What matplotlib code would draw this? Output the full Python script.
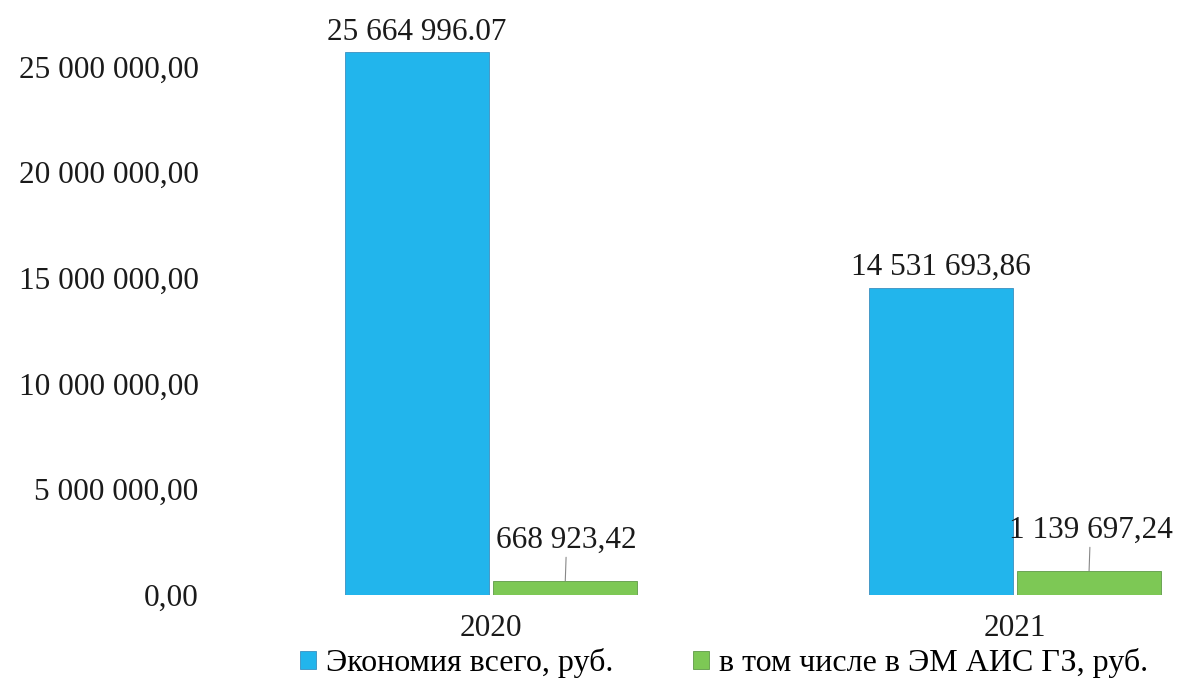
import matplotlib
matplotlib.use("Agg")
import matplotlib.pyplot as plt
from matplotlib.ticker import FuncFormatter
import numpy as np

plt.rcParams["font.family"] = ["Liberation Serif", "DejaVu Serif"]

years = ["2020", "2021"]
total_savings = [25664996.07, 14531693.86]
ais_savings = [668923.42, 1139697.24]
total_labels = ["25 664 996.07", "14 531 693,86"]
ais_labels = ["668 923,42", "1 139 697,24"]
series_names = ["Экономия всего, руб.", "в том числе в ЭМ АИС ГЗ, руб."]
y_ticks = [0, 5e6, 10e6, 15e6, 20e6, 25e6]

BLUE = "#22B5EC"
GREEN = "#7DC855"
TEXT = "#1a1a1a"


def rub_fmt(v, _pos):
    s = f"{v:,.2f}"
    return s.replace(",", " ").replace(".", ",")


fig = plt.figure(figsize=(11.83, 6.83), dpi=100)
ax = fig.add_axes([0.203, 0.1288, 0.797, 0.836])

x = np.arange(len(years))
w = 0.275
off = 0.1417
b1 = ax.bar(x - off, total_savings, w, color=BLUE, edgecolor="#3a8fc0",
            linewidth=0.6, label=series_names[0])
b2 = ax.bar(x + off, ais_savings, w, color=GREEN, edgecolor="#5f9a48",
            linewidth=0.6, label=series_names[1])

for rect, lab in zip(b1, total_labels):
    ax.annotate(lab, (rect.get_x() + rect.get_width() / 2, rect.get_height()),
                xytext=(0, 4), textcoords="offset points", ha="center",
                va="bottom", fontsize=22.5, color=TEXT)

for rect, lab in zip(b2, ais_labels):
    cx = rect.get_x() + rect.get_width() / 2
    ax.annotate(lab, (cx, rect.get_height()),
                xytext=(1, 19), textcoords="offset points", ha="center",
                va="bottom", fontsize=22.5, color=TEXT,
                arrowprops=dict(arrowstyle="-", color="#888888", lw=0.8,
                                shrinkA=0, shrinkB=0))

ax.set_xlim(-0.479, 1.321)
ax.set_ylim(0, 27e6)
ax.set_yticks(y_ticks)
ax.yaxis.set_major_formatter(FuncFormatter(rub_fmt))
ax.set_xticks(x)
ax.set_xticklabels(years)
ax.tick_params(axis="y", length=0, pad=30, labelsize=22.5, colors=TEXT)
ax.tick_params(axis="x", length=0, pad=14, labelsize=22.5, colors=TEXT)
for s in ax.spines.values():
    s.set_visible(False)

fig.legend(handles=[b1, b2], loc="center", bbox_to_anchor=(0.612, 0.029),
           ncol=2, frameon=False, fontsize=23, handlelength=0.5,
           handleheight=0.5, handletextpad=0.3, columnspacing=2.5)

fig.savefig("out.png", dpi=100, facecolor="white")
